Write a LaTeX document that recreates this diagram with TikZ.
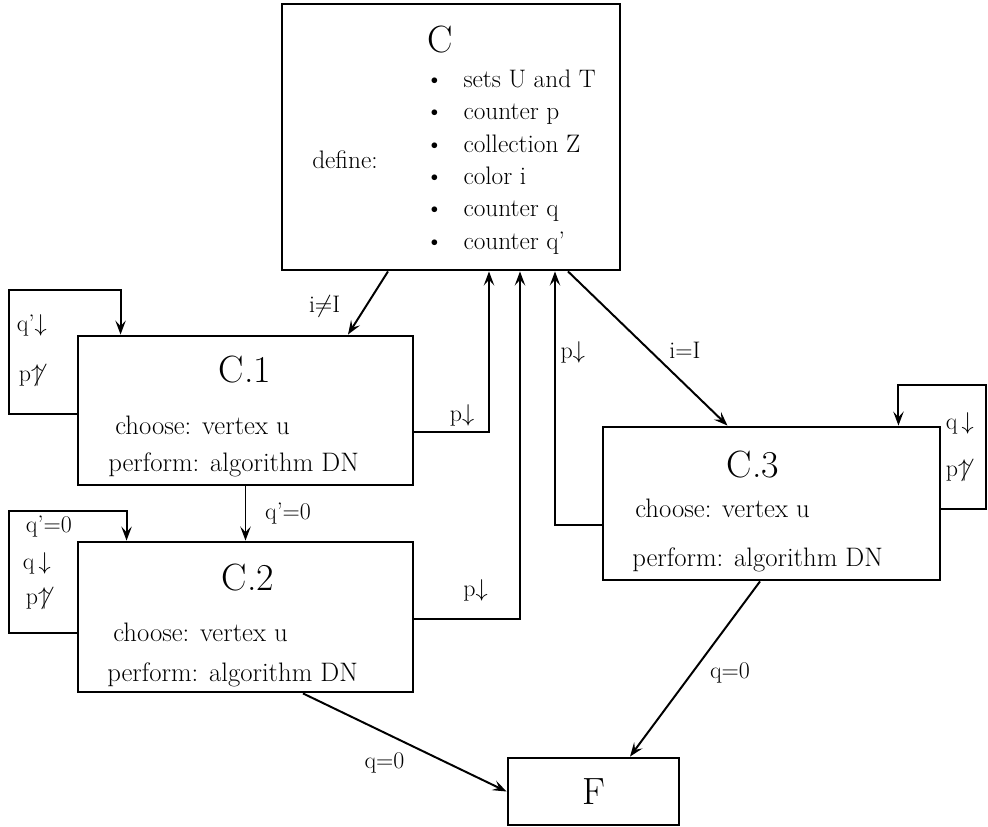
\documentclass[tikz,border=0pt]{standalone}
\usepackage{amsmath,amssymb}
\usepackage{tikz}
\usetikzlibrary{arrows.meta, calc}
\tikzset{
  casebox/.style={
    draw, line width=2pt, fill=white,
    font=\fontsize{27}{30}\selectfont
  },
  casetitle/.style={
    font=\fontsize{27}{30}\selectfont
  },
  casetext/.style={
    anchor=west, inner sep=0pt,
    font=\fontsize{19}{23}\selectfont
  },
  definetext/.style={
    anchor=west, inner sep=0pt, align=left,
    font=\fontsize{18}{23}\selectfont
  },
  flowarrow/.style={
    -{Stealth[length=3.5mm, width=2.6mm, inset=1.4mm]}, line width=1.4pt
  },
  flowlabel/.style={
    font=\fontsize{17}{20}\selectfont
  },
}

\begin{document}
\begin{tikzpicture}[x=0.025cm, y=-0.025cm]
  \useasboundingbox (0,0) rectangle (988,827);

  % === Main case C ===
  \node[casebox, minimum width=8.45cm, minimum height=6.65cm] (C) at (451,137) {};
  \node[casetitle] (Ctitle) at (440,40) {C};
  \node[definetext] (define) at (312,160) {define:};
  \node[definetext] (items) at (425,162)
    {\textbullet\hspace{5mm}sets U and T\\
     \textbullet\hspace{5mm}counter p\\
     \textbullet\hspace{5mm}collection Z\\
     \textbullet\hspace{5mm}color i\\
     \textbullet\hspace{5mm}counter q\\
     \textbullet\hspace{5mm}counter q’};

  % === Sub cases ===
  \node[casebox, minimum width=8.375cm, minimum height=3.725cm] (C1) at (245.5,410.5) {};
  \node[casetitle] (C1title) at (245,370) {C.1};
  \node[casetext] (C1choose) at (115,425) {choose: vertex u};
  \node[casetext] (C1perform) at (108,465) {perform: algorithm DN};

  \node[casebox, minimum width=8.375cm, minimum height=3.75cm] (C2) at (245.5,617) {};
  \node[casetitle] (C2title) at (248,578) {C.2};
  \node[casetext] (C2choose) at (113,632) {choose: vertex u};
  \node[casetext] (C2perform) at (107,675) {perform: algorithm DN};

  \node[casebox, minimum width=8.425cm, minimum height=3.825cm] (C3) at (771.5,503.5) {};
  \node[casetitle] (C3title) at (753,465) {C.3};
  \node[casetext] (C3choose) at (635,508) {choose: vertex u};
  \node[casetext] (C3perform) at (632,560) {perform: algorithm DN};

  % === Final case ===
  \node[casebox, minimum width=4.275cm, minimum height=1.675cm] (F) at (593.5,791.5) {F};

  % === Arrows from C ===
  \draw[flowarrow] ($(C.south)+(-63,0)$) -- node[flowlabel, pos=0.55, left=5mm] {i$\neq$I} ($(C1.north)+(102.5,0)$);
  \draw[flowarrow] ($(C.south)+(117,0)$) -- node[flowlabel, pos=0.6, above right] {i=I} ($(C3.north)+(-44,0)$);

  % === Arrows back to C ===
  \draw[flowarrow] ($(C1.east)+(0,21.5)$) -| node[flowlabel, pos=0.32, above] {p$\downarrow$} ($(C.south)+(38,0)$);
  \draw[flowarrow] ($(C2.east)+(0,2)$) -| node[flowlabel, pos=0.29, above=3mm] {p$\downarrow$} ($(C.south)+(69,0)$);
  \draw[flowarrow] ($(C3.west)+(0,21.5)$) -| node[flowlabel, pos=0.84, right] {p$\downarrow$} ($(C.south)+(104,0)$);

  % === Between sub cases ===
  \draw[flowarrow] (C1.south) -- node[flowlabel, right=3.5mm] {q’=0} (C2.north);
  \draw[flowarrow] ($(C2.south)+(57.5,0)$) -- node[flowlabel, pos=0.4, below=3.5mm] {q=0} (F.west);
  \draw[flowarrow] ($(C3.south)+(-11.5,0)$) -- node[flowlabel, pos=0.52, right=3mm] {q=0} ($(F.north)+(36.5,0)$);

  % === Self loops ===
  \draw[flowarrow] ($(C1.west)+(0,3.5)$) -- ++(-68,0) -- ++(0,-124) -| ($(C1.north west)+(44,0)$);
  \node[flowlabel, anchor=west] (C1loopq) at (12,325) {q’$\downarrow$};
  \node[flowlabel, anchor=west] (C1loopp) at (14,375) {p$\not\uparrow$};

  \draw[flowarrow] ($(C2.west)+(0,16)$) -- ++(-68,0) -- ++(0,-122) -| ($(C2.north west)+(50,0)$);
  \node[flowlabel, anchor=west] (C2loopz) at (21,527) {q’=0};
  \node[flowlabel, anchor=west] (C2loopq) at (18,563) {q\,$\downarrow$};
  \node[flowlabel, anchor=west] (C2loopp) at (21,598) {p$\not\uparrow$};

  \draw[flowarrow] ($(C3.east)+(0,5.5)$) -- ++(45,0) -- ++(0,-124) -| ($(C3.north east)+(-43,0)$);
  \node[flowlabel, anchor=west] (C3loopq) at (941,423) {q\,$\downarrow$};
  \node[flowlabel, anchor=west] (C3loopp) at (941,470) {p$\not\uparrow$};

\end{tikzpicture}
\end{document}
